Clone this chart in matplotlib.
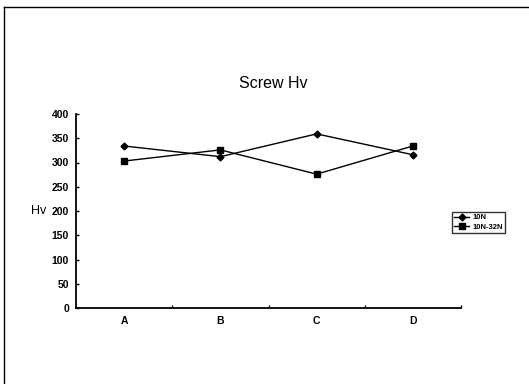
import matplotlib
matplotlib.use("Agg")
import matplotlib.pyplot as plt
from matplotlib.lines import Line2D

categories = ["A", "B", "C", "D"]
hv_10n = [334, 312, 359, 316]
hv_10n_32n = [303, 326, 276, 334]
yticks = [0, 50, 100, 150, 200, 250, 300, 350, 400]

plt.rcParams['font.family'] = ['Liberation Sans', 'DejaVu Sans']

fig = plt.figure(figsize=(5.29, 3.84), dpi=100)
ax = fig.add_axes([76/529, 1-308/384, (461-76)/529, (308-114)/384])

x = list(range(len(categories)))
ax.plot(x, hv_10n, color="black", lw=1.0, marker="D", ms=3.5, label="10N")
ax.plot(x, hv_10n_32n, color="black", lw=1.0, marker="s", ms=4.5, label="10N-32N")

ax.set_xlim(-0.5, len(categories) - 0.5)
ax.set_ylim(0, 400)
ax.set_yticks(yticks)
ax.set_yticklabels([str(v) for v in yticks], fontsize=7.5, fontweight="bold")
ax.set_xticks(x)
ax.set_xticklabels(categories, fontsize=7.5, fontweight="bold")
ax.tick_params(axis="x", length=0, pad=6)
ax.set_xticks([i + 0.5 for i in range(len(categories))], minor=True)
ax.tick_params(axis="x", which="minor", direction="in", length=2, width=1)
ax.tick_params(axis="y", direction="in", length=2.5, width=1, pad=5)

for s in ["top", "right"]:
    ax.spines[s].set_visible(False)
ax.spines["left"].set_linewidth(1.3)
ax.spines["bottom"].set_linewidth(1.3)

fig.text(39/529, 1-211/384, "Hv", fontsize=9, ha="center", va="center")
fig.text(273/529, 1-83/384, "Screw Hv", fontsize=11.5, ha="center", va="center")

leg = fig.legend(loc="upper left", bbox_to_anchor=(448/529, 1-208/384),
                 frameon=True, fancybox=False, edgecolor="black",
                 borderpad=0.3, handlelength=2.0, handletextpad=0.4,
                 labelspacing=0.3, prop={"size": 5.5, "weight": "bold"})
leg.get_frame().set_linewidth(1.0)

# scanned frame around the chart (left and top edges)
fig.add_artist(Line2D([4/529, 4/529], [0, 1-7/384], color="black", lw=1.0,
                      transform=fig.transFigure))
fig.add_artist(Line2D([4/529, 1], [1-7/384, 1-7/384], color="black", lw=1.0,
                      transform=fig.transFigure))

fig.savefig("out.png", dpi=100)
